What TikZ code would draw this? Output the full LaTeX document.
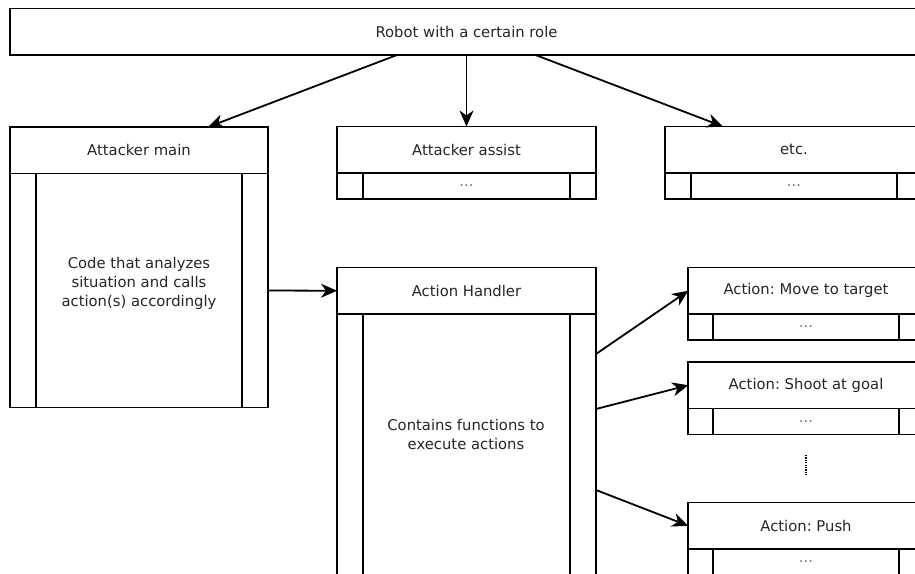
\documentclass[tikz,border=0pt]{standalone}
\usepackage{fontspec}
\setmainfont{DejaVu Sans}
\usetikzlibrary{calc,arrows.meta}

% class-like box: header with a title, body with two narrow side columns
% #1 name, #2 centre x, #3 top y, #4 width, #5 body height, #6 column width, #7 title, #8 body text
\newcommand\umlbox[8]{%
  \node[hdr, minimum width=#4pt, anchor=north] (#1) at (#2,#3) {#7};
  \node[bodybox, minimum width=#4pt, minimum height=#5pt, anchor=north] (#1b) at (#1.south) {#8};
  \draw[sep] ($(#1b.north west)+(#6,0)$) -- ($(#1b.south west)+(#6,0)$);
  \draw[sep] ($(#1b.north east)+(-#6,0)$) -- ($(#1b.south east)+(-#6,0)$);
}

\begin{document}
\frenchspacing
\begin{tikzpicture}[x=1pt,y=-1pt,
  txt/.style={font=\fontsize{14.8}{19}\selectfont, text=black!85, align=center},
  hdr/.style={draw, line width=1.8pt, fill=white, inner sep=0pt, outer sep=0pt, minimum height=46.5pt, txt},
  bodybox/.style={draw, line width=1.8pt, fill=white, inner sep=0pt, outer sep=0pt, txt, text=black!55},
  sep/.style={line width=1.8pt},
  conn/.style={line width=1.8pt, -{Stealth[length=16pt, width=14pt, inset=5pt]}},
]
\useasboundingbox (0,0) rectangle (915,573);

% role box
\node[hdr, minimum width=913pt, anchor=north] (role) at (466.5,8.5) {Robot with a certain role};

% role variants
\umlbox{am}{139}{127}{258}{234}{26}{Attacker main}{}
\umlbox{aa}{466.5}{126.5}{259}{26}{26}{Attacker assist}{...}
\umlbox{etc}{794}{126.5}{258}{26}{26}{etc.}{...}

\node[txt] (amtext) at (139,283) {Code that analyzes\\situation and calls\\action(s) accordingly};

% action handler and actions
\umlbox{ah}{466.5}{267.5}{259}{270}{26}{Action Handler}{}
\node[txt] (ahtext) at (466,434) {Contains functions to\\execute actions};

\umlbox{mv}{806}{267.5}{235.5}{26}{24.4}{Action: Move to target}{...}
\umlbox{sh}{806}{362}{235.5}{26}{24.4}{Action: Shoot at goal}{...}
\umlbox{pu}{806}{502.5}{235.5}{26}{24.4}{Action: Push}{...}

\coordinate (dtop) at (806,455);
\coordinate (dbot) at (806,476);
\draw[line width=2pt, dash pattern=on 1.2pt off 1.2pt] (dtop) -- (dbot);

% connectors
\draw[conn] ($(role.south)+(-69.5,0)$) -- ($(am.north)+(69,0)$);
\draw[conn] (role.south) -- (aa.north);
\draw[conn] ($(role.south)+(69,0)$) -- ($(etc.north)+(-71,0)$);
\draw[conn] (amb.east) -- (ah.west);
\draw[conn] ($(ahb.north east)+(0,40)$) -- (mv.west);
\draw[conn] ($(ahb.north east)+(0,95)$) -- (sh.west);
\draw[conn] ($(ahb.north east)+(0,176)$) -- (pu.west);
\end{tikzpicture}
\end{document}
